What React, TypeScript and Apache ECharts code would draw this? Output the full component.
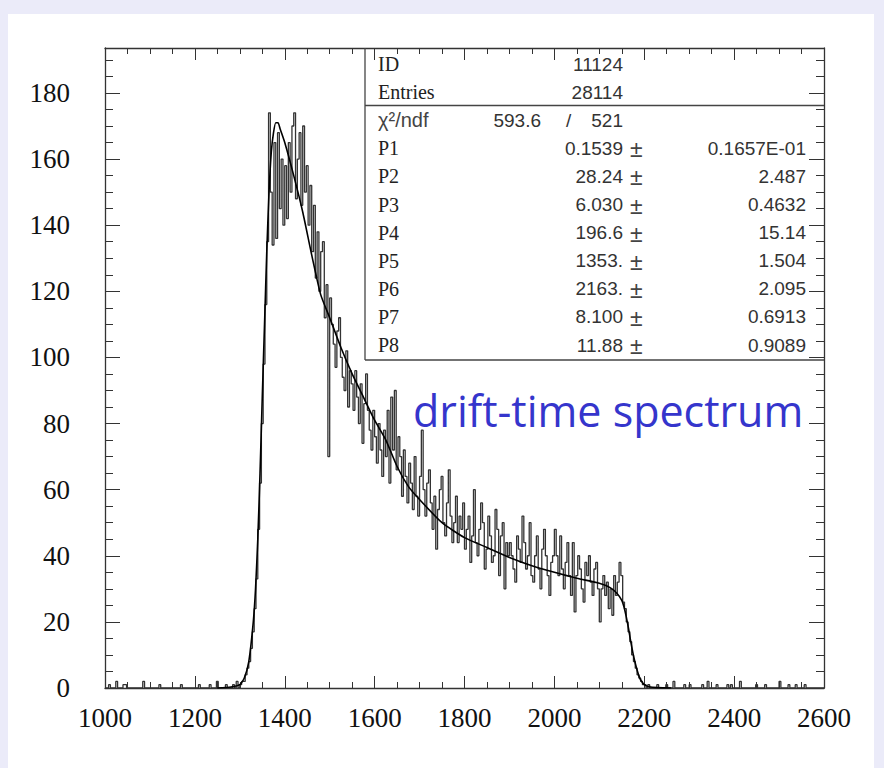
import React, { useEffect, useRef } from "react";
import * as echarts from "echarts";

// ---- data ----
const binWidth = 4;
const coreStart = 1300;
// counts per bin (left edge = coreStart + i*binWidth)
const coreCounts = [
  1, 2, 2, 4, 6, 8, 12, 17, 24, 33, 48, 62, 80, 98, 116, 135, 174, 150, 134, 165, 136, 168, 145, 160, 140,
  158, 142, 165, 150, 170, 174, 148, 160, 168, 146, 170, 150, 158, 140, 152, 132, 146, 124, 138, 120, 132, 135, 112, 122, 70,
  118, 110, 104, 97, 108, 112, 100, 94, 90, 102, 85, 96, 92, 84, 96, 88, 80, 92, 74, 86, 95, 84, 78, 72, 84,
  76, 68, 80, 72, 64, 78, 70, 84, 62, 88, 72, 90, 66, 76, 70, 58, 72, 64, 56, 68, 62, 54, 70, 58, 52,
  64, 78, 60, 52, 62, 66, 56, 48, 58, 42, 54, 60, 64, 50, 46, 56, 66, 52, 44, 50, 58, 44, 52, 48, 56,
  42, 48, 52, 38, 46, 60, 44, 40, 48, 56, 50, 36, 42, 52, 46, 38, 40, 54, 48, 34, 46, 50, 30, 44, 40,
  44, 40, 36, 32, 46, 42, 38, 52, 44, 36, 40, 50, 34, 32, 40, 46, 36, 30, 42, 48, 40, 34, 28, 38, 40,
  48, 40, 34, 46, 36, 30, 38, 44, 34, 28, 44, 23, 34, 40, 36, 30, 26, 38, 34, 40, 32, 28, 36, 38, 30,
  20, 30, 34, 28, 32, 24, 30, 22, 34, 28, 32, 38, 34, 26, 24, 20, 17, 14, 10, 8, 6, 4, 3, 2, 1,
  1, 0, 1, 0, 0,
];
// sparse background bins outside the main peak: [left edge, count]
const bgBins: [number, number][] = [
  [1008, 1], [1024, 2], [1040, 1], [1044, 1], [1084, 2], [1120, 1], [1168, 1], [1208, 1], [1232, 1],
  [1248, 2], [1268, 1], [1284, 1], [1292, 2], [2228, 1], [2248, 1], [2264, 2], [2288, 1], [2300, 1],
  [2328, 1], [2340, 2], [2360, 1], [2384, 1], [2392, 1], [2412, 2], [2448, 1], [2468, 1], [2500, 2],
  [2520, 1], [2536, 1], [2556, 1],
];

const fitX = [
  1250, 1280, 1300, 1310, 1320, 1330, 1335, 1340, 1345, 1350, 1355, 1360, 1365, 1370, 1375, 1380, 1385, 1390,
  1400, 1420, 1440, 1460, 1480, 1500, 1525, 1550, 1575, 1600, 1625, 1650, 1675, 1700, 1750, 1800, 1850,
  1900, 1950, 2000, 2050, 2100, 2125, 2140, 2150, 2155, 2160, 2165, 2170, 2175, 2180, 2185, 2190, 2195,
  2200, 2210, 2230, 2260,
];
const fitY = [
  0, 0.3, 1, 3, 8, 20, 30, 45, 65, 88, 110, 132, 150, 162, 168, 171, 171, 169,
  165, 155, 144, 131, 119, 112, 103, 95, 88, 81, 75, 67, 61, 57, 50, 45.5, 42.5,
  39.5, 37, 35, 33.2, 31.7, 30.3, 28.5, 26.5, 24.5, 21.5, 18, 14, 10.5, 7.5, 5, 3, 1.8,
  1, 0.4, 0.1, 0,
];

const xMin = 1000;
const xMax = 2600;
const yMax = 193.6;

const headLabels = ["ID", "Entries"];
const headValues = ["11124", "28114"];
const chi2Value = "593.6";
const ndfValue = "521";
const paramNames = ["P1", "P2", "P3", "P4", "P5", "P6", "P7", "P8"];
const paramValues = ["0.1539", "28.24", "6.030", "196.6", "1353.", "2163.", "8.100", "11.88"];
const paramErrors = ["0.1657E-01", "2.487", "0.4632", "15.14", "1.504", "2.095", "0.6913", "0.9089"];
const titleText = "drift-time spectrum";

export default function App() {
  const ref = useRef<HTMLDivElement>(null);
  useEffect(() => {
    if (!ref.current) return;
    const chart = echarts.init(ref.current, null, { renderer: "svg" });

    const histData: number[][] = [];
    histData.push([xMin, 0]);
    for (let x = xMin; x < xMax; x += binWidth) {
      const i = (x - coreStart) / binWidth;
      let c = 0;
      if (i >= 0 && i < coreCounts.length) c = coreCounts[i];
      else {
        const b = bgBins.find((bb) => bb[0] === x);
        if (b) c = b[1];
      }
      histData.push([x + binWidth / 2, c]);
    }
    histData.push([xMax, 0]);
    const fitData = fitX.map((x, i) => [x, fitY[i]]);

    const axisColor = "#333";
    const mkX = (pos: "top" | "bottom", labels: boolean) => ({
      type: "value",
      min: xMin,
      max: xMax,
      interval: 200,
      position: pos,
      axisLine: { show: true, onZero: false, lineStyle: { color: axisColor, width: 1.3 } },
      axisTick: { show: true, inside: true, length: 12, lineStyle: { color: axisColor, width: 1 } },
      minorTick: { show: true, splitNumber: 4, length: 6, lineStyle: { color: axisColor, width: 1 } },
      splitLine: { show: false },
      minorSplitLine: { show: false },
      axisLabel: {
        show: labels,
        margin: 16,
        fontFamily: "Liberation Serif",
        fontSize: 27,
        color: "#111",
        formatter: (v: number) => String(v),
      },
    });
    const mkY = (pos: "left" | "right", labels: boolean) => ({
      type: "value",
      min: 0,
      max: yMax,
      interval: 20,
      position: pos,
      axisLine: { show: true, onZero: false, lineStyle: { color: axisColor, width: 1.3 } },
      axisTick: { show: true, inside: true, length: 15, lineStyle: { color: axisColor, width: 1 } },
      minorTick: { show: true, splitNumber: 4, length: 8, lineStyle: { color: axisColor, width: 1 } },
      splitLine: { show: false },
      minorSplitLine: { show: false },
      axisLabel: {
        show: labels,
        margin: 35,
        showMaxLabel: false,
        fontFamily: "Liberation Serif",
        fontSize: 27,
        color: "#111",
        formatter: (v: number) => String(v),
      },
    });

    const labelFont = "20px 'Liberation Serif'";
    const valueFont = "19px 'Liberation Sans'";
    const pmFont = "23px 'Liberation Sans'";
    const rowY = (i: number) => 64 + i * 28.1;
    const graphics: any[] = [];
    const txt = (text: string, x: number, y: number, font: string, align: string, fill = "#222") => {
      graphics.push({
        type: "text",
        x,
        y,
        z: 100,
        style: { text, font, fill, textAlign: align, textVerticalAlign: "middle" },
      });
    };
    headLabels.forEach((l, i) => {
      txt(l, 378, rowY(i), labelFont, "left");
      txt(headValues[i], 623, rowY(i), valueFont, "right", "#333");
    });
    txt("χ²/ndf", 378, rowY(2), "20px 'Liberation Sans'", "left", "#444");
    txt(chi2Value, 541, rowY(2), valueFont, "right", "#333");
    txt("/", 566, rowY(2), valueFont, "left", "#333");
    txt(ndfValue, 623, rowY(2), valueFont, "right", "#333");
    paramNames.forEach((p, i) => {
      const y = rowY(i + 3);
      txt(p, 378, y, labelFont, "left");
      txt(paramValues[i], 623, y, valueFont, "right", "#333");
      txt("±", 630, y + 1, pmFont, "left", "#444");
      txt(paramErrors[i], 806, y, valueFont, "right", "#333");
    });
    const line = (x1: number, y1: number, x2: number, y2: number) =>
      graphics.push({
        type: "line",
        z: 100,
        shape: { x1, y1, x2, y2 },
        style: { stroke: "#444", lineWidth: 1.3 },
      });
    line(365, 48, 365, 360);
    line(365, 360, 824, 360);
    line(365, 105.5, 824, 105.5);
    graphics.push({
      type: "text",
      x: 413,
      y: 410,
      z: 100,
      style: {
        text: titleText,
        font: "43px 'Open Sans'",
        fill: "#3535cc",
        textAlign: "left",
        textVerticalAlign: "middle",
      },
    });

    chart.setOption({
      animation: false,
      backgroundColor: "transparent",
      grid: { left: 105, right: 60, top: 48, bottom: 80, containLabel: false },
      xAxis: [mkX("bottom", true), mkX("top", false)],
      yAxis: [mkY("left", true), mkY("right", false)],
      series: [
        {
          type: "line",
          name: "histogram",
          xAxisIndex: 0,
          yAxisIndex: 0,
          data: histData,
          step: "middle",
          symbol: "none",
          lineStyle: { color: "#333", width: 1.3 },
          z: 2,
        },
        {
          type: "line",
          name: "fit",
          xAxisIndex: 0,
          yAxisIndex: 0,
          data: fitData,
          smooth: 0.2,
          symbol: "none",
          lineStyle: { color: "#000", width: 1.6 },
          z: 3,
        },
      ],
      graphic: graphics,
    });
    return () => chart.dispose();
  }, []);

  return (
    <div style={{ position: "fixed", left: 0, top: 0, width: 884, height: 768, background: "#ebebf9" }}>
      <div style={{ position: "absolute", left: 8, top: 14, width: 866, height: 754, background: "#fff" }} />
      <div ref={ref} style={{ position: "absolute", left: 0, top: 0, width: 884, height: 768 }} />
    </div>
  );
}
